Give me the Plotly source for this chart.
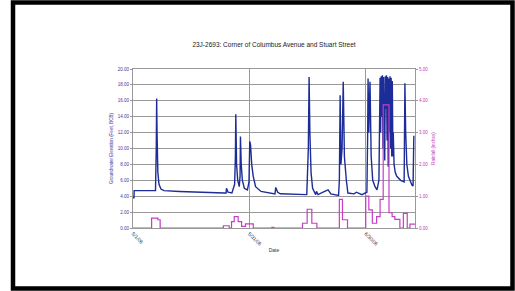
import pandas as pd
import plotly.graph_objects as go

start = pd.Timestamp("2006-05-01")

# Groundwater elevation (ft, BCB) — day offsets from start and values
gw_day = [0.0, 0.25, 0.3, 3.0, 5.8, 6.0, 6.1, 6.2, 6.4, 6.7, 7.2, 8.0, 12.0, 16.0, 20.0, 23.5,
          24.0, 24.1, 24.5, 25.5, 26.2, 26.4, 26.5, 26.7, 27.0, 27.4, 27.6, 27.7, 27.9, 28.2,
          28.7, 29.5, 29.9, 30.1, 30.3, 30.6, 31.0, 31.6, 33.0, 35.0, 36.6, 36.8, 37.3,
          38.0, 41.0, 44.8, 45.2, 45.4, 45.6, 45.9, 46.3, 46.8, 47.1, 47.3, 47.7, 49.0,
          50.3, 51.0, 53.0, 53.2, 53.4, 53.6, 53.9, 54.2, 54.5, 55.0, 55.4, 57.0, 57.6,
          59.0, 60.3, 60.5, 60.6, 60.8, 61.1, 61.4, 61.8, 62.4, 62.9, 63.4, 63.55, 63.7,
          63.85, 64.0, 64.15, 64.3, 64.45, 64.6, 64.75, 64.9, 65.05, 65.2, 65.35, 65.5,
          65.65, 65.8, 65.95, 66.1, 66.25, 66.4, 66.55, 66.7, 66.85, 67.0, 67.1, 67.3,
          67.6, 68.0, 69.0, 69.9, 70.0, 70.1, 70.3, 70.6, 71.0, 71.5, 71.9, 72.2, 72.4]
gw_ft = [3.8, 3.8, 4.7, 4.7, 4.7, 10.0, 16.3, 12.0, 7.0, 5.5, 4.9, 4.7, 4.6, 4.5, 4.45, 4.4,
         4.4, 5.0, 4.5, 4.4, 5.5, 9.0, 14.3, 8.0, 6.0, 5.2, 6.5, 11.5, 8.0, 6.0,
         5.0, 4.8, 5.8, 10.9, 10.5, 8.0, 6.5, 5.2, 4.6, 4.4, 4.3, 5.1, 4.5,
         4.3, 4.25, 4.2, 10.0, 19.0, 12.0, 7.0, 5.0, 4.5, 4.2, 4.6, 4.2, 4.5,
         4.8, 4.3, 4.1, 6.0, 16.7, 8.0, 10.0, 18.4, 9.0, 6.0, 4.4, 4.3, 4.5,
         4.2, 4.5, 12.0, 18.8, 12.0, 18.4, 9.0, 6.0, 5.2, 4.8, 6.0, 10.0, 18.9,
         12.0, 19.1, 14.0, 19.2, 10.0, 19.0, 13.0, 8.5, 19.1, 15.0, 19.2, 11.0,
         19.0, 7.7, 18.8, 12.0, 19.1, 10.0, 18.9, 9.0, 18.5, 9.0, 12.0, 8.0,
         7.0, 6.5, 6.0, 5.8, 10.0, 18.2, 12.0, 8.0, 6.5, 5.8, 5.4, 5.3, 11.6]

# Rainfall (inches) — step changes
rain_day = [0.0, 4.8, 6.4, 7.0, 23.3, 24.8, 25.4, 26.1, 27.1, 28.0, 29.0, 31.0, 35.8, 36.3,
            43.7, 44.9, 46.1, 47.4, 53.2, 54.0, 55.3, 60.0, 60.8, 61.7, 62.8, 63.7, 64.5,
            66.0, 66.8, 67.5, 68.8, 69.7, 70.7, 71.4, 72.7]
rain_in = [0.0, 0.31, 0.26, 0.0, 0.07, 0.0, 0.2, 0.36, 0.2, 0.05, 0.13, 0.0, 0.02, 0.0,
           0.15, 0.59, 0.15, 0.0, 0.9, 0.26, 0.0, 1.0, 0.57, 0.15, 0.36, 0.9, 3.87,
           0.48, 0.36, 0.27, 0.0, 0.46, 0.0, 0.12, 0.12]

tick_day = [0, 30, 60]
tick_text = ["5/1/06", "5/31/06", "6/30/06"]
end_day = 72.7

gw_x = [start + pd.Timedelta(days=d) for d in gw_day]
rain_x = [start + pd.Timedelta(days=d) for d in rain_day]
tick_x = [start + pd.Timedelta(days=d) for d in tick_day]

fig = go.Figure()
fig.add_trace(go.Scatter(x=rain_x, y=rain_in, mode="lines", line=dict(color="#c83cc8", width=1.2, shape="hv"),
                         yaxis="y2", name="Rainfall"))
fig.add_trace(go.Scatter(x=gw_x, y=gw_ft, mode="lines", line=dict(color="#1c2c98", width=1.4),
                         name="Groundwater"))

L, R, T, B = 133, 100, 69, 63
W, H = 515, 291
pw, ph = W - L - R, H - T - B
px = lambda x: (x - L) / pw
py = lambda y: (H - B - y) / ph

fig.update_layout(
    width=W, height=H, margin=dict(l=L, r=R, t=T, b=B),
    paper_bgcolor="white", plot_bgcolor="white", showlegend=False,
    font=dict(family="Liberation Sans, Arial", size=5, color="#333"),
    title=dict(text="23J-2693: Corner of Columbus Avenue and Stuart Street", x=px(274), xref="paper",
               xanchor="center", y=1 - 45 / H, yref="container", yanchor="middle",
               font=dict(size=6.5, color="#222")),
    xaxis=dict(range=[start, start + pd.Timedelta(days=end_day)], tickvals=tick_x, ticktext=tick_text,
               tickangle=45, showgrid=True, gridcolor="#999", gridwidth=0.8, showline=True,
               linecolor="#999", mirror=True, ticks="", tickfont=dict(size=5, color="#333"),
               title=dict(text="Date", font=dict(size=5, color="#333"), standoff=2), zeroline=False),
    yaxis=dict(range=[0, 20], tickvals=list(range(0, 21, 2)), tickformat=".2f", showgrid=True,
               gridcolor="#999", gridwidth=0.8, showline=True, linecolor="#999", ticks="outside",
               ticklen=2, tickcolor="#999", zeroline=False, tickfont=dict(size=4.5, color="#3a3aa0"),
               title=dict(text="Groundwater Elevation (Feet, BCB)", font=dict(size=4.5, color="#3a3aa0"),
                          standoff=4)),
    yaxis2=dict(range=[0, 5], tickvals=[0, 1, 2, 3, 4, 5], tickformat=".2f", overlaying="y", side="right",
                showgrid=False, showline=True, linecolor="#999", ticks="outside", ticklen=2,
                tickcolor="#999", zeroline=False, tickfont=dict(size=4.5, color="#c040c0"),
                title=dict(text="Rainfall (inches)", font=dict(size=4.5, color="#c040c0"), standoff=4)),
    shapes=[dict(type="rect", xref="paper", yref="paper", x0=px(13), x1=px(512.5), y0=py(288.5), y1=py(2.5),
                 line=dict(color="black", width=4.5), fillcolor="rgba(0,0,0,0)", layer="above")],
)

fig.write_html("out.html", config={"displayModeBar": False},
               post_script="document.body.style.margin='0';document.body.style.overflow='hidden';")
